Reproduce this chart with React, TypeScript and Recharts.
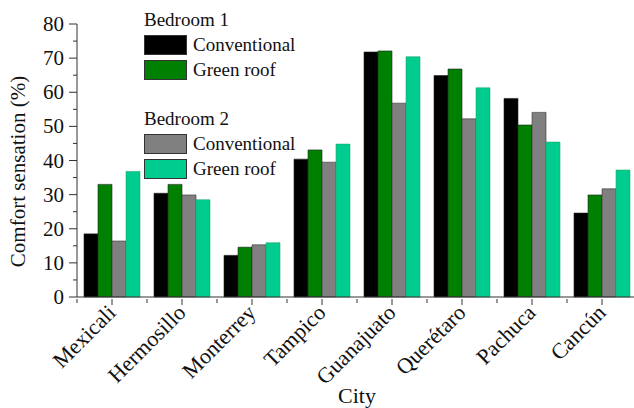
import React from 'react';
import { BarChart, Bar, XAxis, YAxis } from 'recharts';

const cities = ['Mexicali', 'Hermosillo', 'Monterrey', 'Tampico', 'Guanajuato', 'Querétaro', 'Pachuca', 'Cancún'];
const bed1Conventional = [18.5, 30.4, 12.2, 40.4, 71.8, 64.9, 58.2, 24.6];
const bed1GreenRoof = [33.0, 33.0, 14.6, 43.1, 72.1, 66.8, 50.4, 29.9];
const bed2Conventional = [16.4, 29.9, 15.3, 39.5, 56.8, 52.2, 54.1, 31.7];
const bed2GreenRoof = [36.8, 28.5, 15.9, 44.8, 70.4, 61.3, 45.4, 37.2];
const yTicks = [0, 5, 10, 15, 20, 25, 30, 35, 40, 45, 50, 55, 60, 65, 70, 75, 80];

const data = cities.map((city, i) => ({
  city,
  b1c: bed1Conventional[i],
  b1g: bed1GreenRoof[i],
  b2c: bed2Conventional[i],
  b2g: bed2GreenRoof[i],
}));

const FONT = "'Liberation Serif', 'Times New Roman', serif";
const BLACK = '#000000';
const GREEN = '#008000';
const GRAY = '#808080';
const TEAL = '#00CC8F';

const YTick = (props: any) => {
  const { x, y, payload } = props;
  const major = payload.value % 10 === 0;
  return (
    <g>
      <line x1={x} x2={x - (major ? 8 : 4)} y1={y} y2={y} stroke="#333" strokeWidth={1} />
      {major && (
        <text x={x - 13} y={y} dy={7} textAnchor="end" style={{ fontFamily: FONT, fontSize: 21 }} fill="#111">
          {payload.value}
        </text>
      )}
    </g>
  );
};

const XTick = (props: any) => {
  const { x, y, payload } = props;
  const half = payload.offset || 35;
  return (
    <g>
      <line x1={x} x2={x} y1={y} y2={y + 6} stroke="#333" strokeWidth={1} />
      <line x1={x - half} x2={x - half} y1={y} y2={y + 4} stroke="#333" strokeWidth={1} />
      <text
        x={x + 5}
        y={y + 15}
        textAnchor="end"
        style={{ fontFamily: FONT, fontSize: 22 }}
        fill="#111"
        transform={`rotate(-45, ${x + 5}, ${y + 15})`}
      >
        {payload.value}
      </text>
    </g>
  );
};

// y-axis title, centred on the plot's vertical extent
const YLabel = (props: any) => {
  const { viewBox } = props;
  const cx = viewBox.x + 25;
  const cy = viewBox.y + viewBox.height / 2 + 11;
  return (
    <text
      x={cx}
      y={cy}
      textAnchor="middle"
      style={{ fontFamily: FONT, fontSize: 21 }}
      fill="#111"
      transform={`rotate(-90, ${cx}, ${cy})`}
    >
      Comfort sensation (%)
    </text>
  );
};

const legendGroups = [
  { title: 'Bedroom 1', items: [{ name: 'Conventional', color: BLACK }, { name: 'Green roof', color: GREEN }] },
  { title: 'Bedroom 2', items: [{ name: 'Conventional', color: GRAY }, { name: 'Green roof', color: TEAL }] },
];

const ChartLegend = () => (
  <div style={{ position: 'absolute', top: 10, left: 144, fontFamily: FONT, fontSize: 19, color: '#111', lineHeight: 1 }}>
    {legendGroups.map((g, gi) => (
      <div key={gi} style={{ marginBottom: gi === 0 ? 30 : 0 }}>
        <div style={{ height: 20 }}>{g.title}</div>
        {g.items.map((it, ii) => (
          <div key={ii} style={{ display: 'flex', alignItems: 'center', marginTop: ii === 0 ? 5 : 6, height: 19 }}>
            <span
              style={{
                display: 'inline-block',
                width: 41,
                height: 18,
                background: it.color,
                border: '1px solid #333',
                marginRight: 6,
              }}
            />
            <span>{it.name}</span>
          </div>
        ))}
      </div>
    ))}
  </div>
);

export default function App() {
  return (
    <div style={{ position: 'fixed', left: 0, top: 0, width: 634, height: 408, overflow: 'hidden', background: '#fff', fontFamily: FONT }}>
      <BarChart
        width={640}
        height={408}
        data={data}
        margin={{ top: 24, right: 3, left: 0, bottom: 0 }}
        barCategoryGap="10%"
        barGap={0}
        style={{ fontFamily: FONT }}
      >
        <XAxis
          dataKey="city"
          height={111}
          axisLine={{ stroke: '#333' }}
          tickLine={false}
          tickSize={0}
          interval={0}
          tick={<XTick />}
          label={{ value: 'City', position: 'insideBottom', offset: 5, style: { fontFamily: FONT, fontSize: 22 }, fill: '#111' }}
        />
        <YAxis
          width={77}
          domain={[0, 80]}
          ticks={yTicks}
          interval={0}
          axisLine={{ stroke: '#333' }}
          tickLine={false}
          tickSize={0}
          tickMargin={0}
          tick={<YTick />}
          label={<YLabel />}
        />
        <Bar dataKey="b1c" fill={BLACK} stroke="#222" strokeWidth={0.6} isAnimationActive={false} />
        <Bar dataKey="b1g" fill={GREEN} stroke="#222" strokeWidth={0.6} isAnimationActive={false} />
        <Bar dataKey="b2c" fill={GRAY} stroke="#333" strokeWidth={0.6} isAnimationActive={false} />
        <Bar dataKey="b2g" fill={TEAL} stroke="#2a6" strokeWidth={0.6} isAnimationActive={false} />
      </BarChart>
      <ChartLegend />
    </div>
  );
}
